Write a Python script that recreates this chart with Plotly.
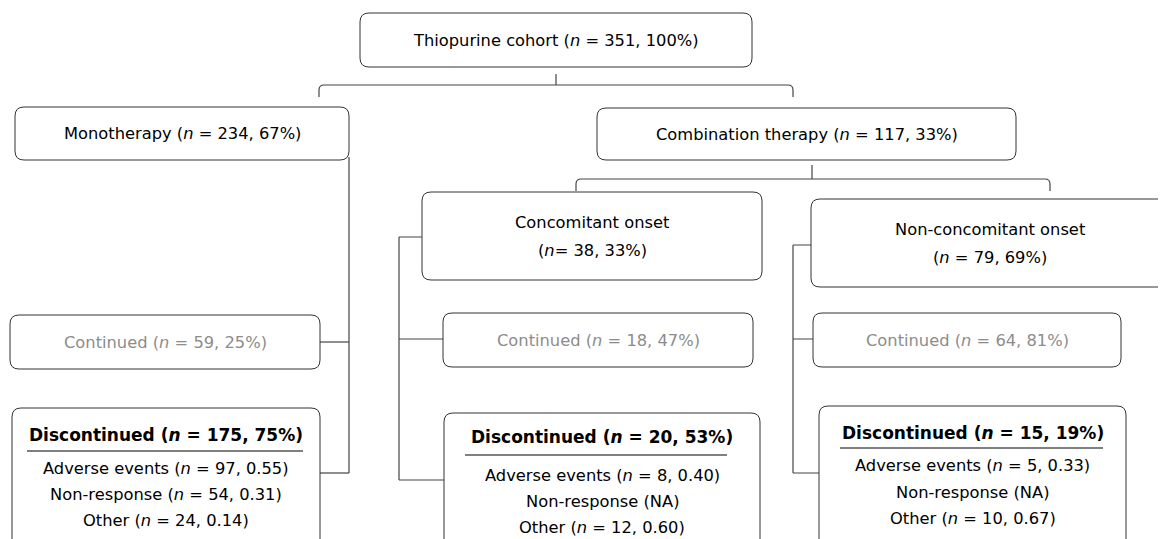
import plotly.graph_objects as go

# ---- data ----
cohort = {"label": "Thiopurine cohort", "n": 351, "pct": "100%"}
arm_labels = ["Monotherapy", "Combination therapy"]
arm_n = [234, 117]
arm_pct = ["67%", "33%"]
onset_labels = ["Concomitant onset", "Non-concomitant onset"]
onset_n = [38, 79]
onset_pct = ["33%", "69%"]
continued_n = [59, 18, 64]
continued_pct = ["25%", "47%", "81%"]
discont_n = [175, 20, 15]
discont_pct = ["75%", "53%", "19%"]
adverse_n = [97, 8, 5]
adverse_frac = ["0.55", "0.40", "0.33"]
nonresp_n = [54, None, None]
nonresp_frac = ["0.31", None, None]
other_n = [24, 12, 10]
other_frac = ["0.14", "0.60", "0.67"]

W, H = 1166, 539
OFF = 8  # page body margin compensation
FONT = "DejaVu Sans"
FS = 16.3
FSB = 17
LINE = "#444444"
BOX = "#333333"
GRAY = "#8c8c8c"

fig = go.Figure()
shapes = []
annots = []


def rbox(x0, y0, x1, y1, r=9, color=BOX):
    p = (f"M {x0+r},{y0} L {x1-r},{y0} Q {x1},{y0} {x1},{y0+r} "
         f"L {x1},{y1-r} Q {x1},{y1} {x1-r},{y1} L {x0+r},{y1} "
         f"Q {x0},{y1} {x0},{y1-r} L {x0},{y0+r} Q {x0},{y0} {x0+r},{y0} Z")
    shapes.append(dict(type="path", path=p, xref="x", yref="y",
                       line=dict(color=color, width=1), fillcolor="white", layer="above"))


def line_path(p, color=LINE, width=1.2):
    shapes.append(dict(type="path", path=p, xref="x", yref="y",
                       line=dict(color=color, width=width), layer="below"))


def text(x, y, s, color="black", size=FS):
    annots.append(dict(x=x, y=y, xref="x", yref="y", text=s, showarrow=False,
                       font=dict(family=FONT, size=size, color=color),
                       xanchor="center", yanchor="middle"))


def brace(xl, xr, xc, ytop, ymid, ybot, r=5):
    line_path(f"M {xl},{ybot} L {xl},{ymid+r} Q {xl},{ymid} {xl+r},{ymid} "
              f"L {xr-r},{ymid} Q {xr},{ymid} {xr},{ymid+r} L {xr},{ybot}")
    line_path(f"M {xc},{ytop} L {xc},{ymid}")


def n_str(n, extra, sep=" = "):
    return f"(<i>n</i>{sep}{n}, {extra})"


# ---- connectors ----
brace(319, 793, 556, 74, 85, 97)
brace(576, 1050, 812, 165, 179, 191)
line_path("M 349,157 L 349,473")
line_path("M 320,342 L 349,342")
line_path("M 320,473 L 349,473")
line_path("M 399,237 L 422,237 M 399,237 L 399,480 M 399,339 L 443,339 M 399,480 L 444,480")
line_path("M 793,245 L 811,245 M 793,245 L 793,473 M 793,339 L 813,339 M 793,473 L 819,473")

# ---- boxes ----
rbox(360, 13, 752, 67)
text(556, 40, f"{cohort['label']} " + n_str(cohort['n'], cohort['pct']))

arm_boxes = [(15, 107, 349, 160), (597, 108, 1016, 160)]
for (x0, y0, x1, y1), lab, n, p in zip(arm_boxes, arm_labels, arm_n, arm_pct):
    rbox(x0, y0, x1, y1)
    text((x0 + x1) / 2, (y0 + y1) / 2, f"{lab} " + n_str(n, p))

onset_boxes = [(422, 192, 762, 280), (811, 199, 1185, 287)]
onset_seps = ["= ", " = "]
onset_text_y = [(222, 250), (229, 257)]
onset_text_x = [592, 990]
for (x0, y0, x1, y1), lab, n, p, sep, (ya, yb), cx in zip(onset_boxes, onset_labels, onset_n,
                                                          onset_pct, onset_seps, onset_text_y,
                                                          onset_text_x):
    rbox(x0, y0, x1, y1)
    text(cx, ya, lab)
    text(cx, yb, n_str(n, p, sep))

cont_boxes = [(10, 315, 320, 369), (443, 313, 753, 367), (813, 313, 1121, 367)]
for (x0, y0, x1, y1), n, p in zip(cont_boxes, continued_n, continued_pct):
    rbox(x0, y0, x1, y1)
    text((x0 + x1) / 2, (y0 + y1) / 2, "Continued " + n_str(n, p), color=GRAY)

disc_boxes = [(12, 408, 320, 580), (444, 413, 760, 580), (819, 406, 1126, 580)]
disc_y = [(435, 451, 468, 494, 520), (437, 455, 475, 501, 527), (433, 448, 465, 492, 518)]
ul = [(27, 303), (465, 727), (840, 1103)]
for i, ((x0, y0, x1, y1), (yt, yu, ya, yn, yo), (ux0, ux1)) in enumerate(zip(disc_boxes, disc_y, ul)):
    rbox(x0, y0, x1, y1)
    cx = (x0 + x1) / 2
    text(cx, yt, f"<b>Discontinued (<i>n</i> = {discont_n[i]}, {discont_pct[i]})</b>", size=FSB)
    shapes.append(dict(type="line", x0=ux0, x1=ux1, y0=yu, y1=yu, xref="x", yref="y",
                       line=dict(color="black", width=1), layer="above"))
    text(cx, ya, "Adverse events " + n_str(adverse_n[i], adverse_frac[i]))
    if nonresp_n[i] is None:
        text(cx, yn, "Non-response (NA)")
    else:
        text(cx, yn, "Non-response " + n_str(nonresp_n[i], nonresp_frac[i]))
    text(cx, yo, "Other " + n_str(other_n[i], other_frac[i]))

fig.update_layout(
    width=W, height=H, margin=dict(l=0, r=0, t=0, b=0),
    paper_bgcolor="white", plot_bgcolor="white",
    xaxis=dict(range=[OFF, W + OFF], visible=False, fixedrange=True),
    yaxis=dict(range=[H + OFF, OFF], visible=False, fixedrange=True),
    shapes=shapes, annotations=annots, showlegend=False,
)
fig.write_html("out.html")
